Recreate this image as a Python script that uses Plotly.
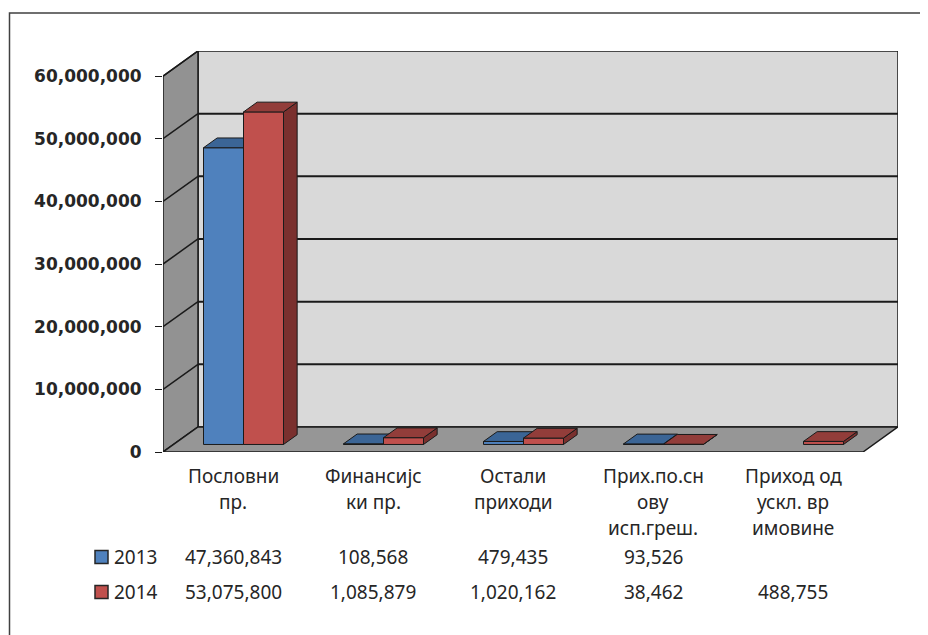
import plotly.graph_objects as go

# ---------------- data ----------------
categories = ["Пословни\nпр.", "Финансијс\nки пр.", "Остали\nприходи",
              "Прих.по.сн\nову\nисп.греш.", "Приход од\nускл. вр\nимовине"]
series_names = ["2013", "2014"]
values_2013 = [47360843, 108568, 479435, 93526, None]
values_2014 = [53075800, 1085879, 1020162, 38462, 488755]
y_ticks = [0, 10000000, 20000000, 30000000, 40000000, 50000000, 60000000]

# ---------------- styling / geometry ----------------
OFF = 8                      # page body margin of the browser
W, H = 928 - OFF, 635 - OFF
ML, MR, MT, MB = 163 - OFF, 30, 51 - OFF, 183
PW, PH = W - ML - MR, H - MT - MB
N = len(categories)
DX = 0.25            # depth offset in category units
DY = 4000000         # depth offset in value units
YMAX = 60000000
F0, F1 = 0.30, 0.69  # bar depth position (front/back fraction)
BW = 1 / 3.5         # bar width (gap 150%)

front_cols = ["#4F81BD", "#C0504D"]
top_cols = ["#3B6596", "#923D3A"]
side_cols = ["#2F5175", "#7A302E"]
edge = "#1a1a1a"
txt = "#262626"


def px2px(x):
    return (x - OFF - ML) / PW


def py2py(y):
    return (H - MB - (y - OFF)) / PH


fig = go.Figure()

shapes = []


def path(pts):
    return "M " + " L ".join(f"{x},{y}" for x, y in pts) + " Z"


shapes.append(dict(type="path", xref="x", yref="y", layer="below",
                   path=path([(DX, DY), (N + DX, DY), (N + DX, YMAX + DY), (DX, YMAX + DY)]),
                   fillcolor="#D9D9D9", line=dict(color=edge, width=1.5)))
shapes.append(dict(type="path", xref="x", yref="y", layer="below",
                   path=path([(0, 0), (0, YMAX), (DX, YMAX + DY), (DX, DY)]),
                   fillcolor="#929292", line=dict(color=edge, width=1.5)))
shapes.append(dict(type="path", xref="x", yref="y", layer="below",
                   path=path([(0, 0), (N, 0), (N + DX, DY), (DX, DY)]),
                   fillcolor="#969696", line=dict(color=edge, width=1.5)))
for t in y_ticks[1:-1]:
    shapes.append(dict(type="line", xref="x", yref="y", layer="below",
                       x0=DX, x1=N + DX, y0=t + DY, y1=t + DY,
                       line=dict(color=edge, width=2)))
for t in y_ticks[1:]:
    shapes.append(dict(type="line", xref="x", yref="y", layer="below",
                       x0=0, x1=DX, y0=t, y1=t + DY,
                       line=dict(color=edge, width=1.5)))

# outer chart border
shapes.append(dict(type="rect", xref="paper", yref="paper", layer="below",
                   x0=px2px(OFF + 1.5), x1=px2px(945), y0=py2py(650), y1=py2py(13),
                   line=dict(color="#404040", width=1.5), fillcolor="rgba(0,0,0,0)"))

# ---------------- bars ----------------
all_vals = [values_2013, values_2014]
base = F0 * DY
ddx = (F1 - F0) * DX
ddy = (F1 - F0) * DY
z = 0
for s, vals in enumerate(all_vals):
    xs_c = [i + 0.5 - BW + s * BW + BW / 2 + F0 * DX for i in range(N)]
    fig.add_trace(go.Bar(x=xs_c, y=vals, base=base, width=BW,
                         marker=dict(color=front_cols[s], line=dict(color=edge, width=1)),
                         name=series_names[s], zorder=z, hoverinfo="skip"))
    z += 1
    tx, ty, sx, sy = [], [], [], []
    for i, v in enumerate(vals):
        if v is None:
            continue
        xa = xs_c[i] - BW / 2
        xb = xs_c[i] + BW / 2
        top = base + v
        tx += [xa, xb, xb + ddx, xa + ddx, xa, None]
        ty += [top, top, top + ddy, top + ddy, top, None]
        sx += [xb, xb, xb + ddx, xb + ddx, xb, None]
        sy += [base, top, top + ddy, base + ddy, base, None]
    fig.add_trace(go.Scatter(x=sx, y=sy, mode="lines", fill="toself",
                             fillcolor=side_cols[s], line=dict(color=edge, width=1),
                             zorder=z, hoverinfo="skip"))
    z += 1
    fig.add_trace(go.Scatter(x=tx, y=ty, mode="lines", fill="toself",
                             fillcolor=top_cols[s], line=dict(color=edge, width=1),
                             zorder=z, hoverinfo="skip"))
    z += 1

# ---------------- text: category labels and data table ----------------
ann = []
lab_font = dict(family="Noto Sans, Open Sans, sans-serif", size=19, color=txt)
line_y = [476, 502, 528]
for i, c in enumerate(categories):
    for k, ln in enumerate(c.split("\n")):
        ann.append(dict(x=i + 0.5, y=py2py(line_y[k]), xref="x", yref="paper",
                        text=ln, showarrow=False, xanchor="center", yanchor="middle",
                        font=lab_font))
row_y = [557, 592]
for s, vals in enumerate(all_vals):
    ann.append(dict(x=px2px(112), y=py2py(row_y[s]), xref="paper", yref="paper",
                    text=series_names[s], showarrow=False, xanchor="left", yanchor="middle",
                    font=lab_font))
    shapes.append(dict(type="rect", xref="paper", yref="paper",
                       x0=px2px(95), x1=px2px(108), y0=py2py(row_y[s] + 6.5), y1=py2py(row_y[s] - 6.5),
                       fillcolor=front_cols[s], line=dict(color=txt, width=1.5)))
    for i, v in enumerate(vals):
        if v is None:
            continue
        ann.append(dict(x=i + 0.5, y=py2py(row_y[s]), xref="x", yref="paper",
                        text=f"{v:,}", showarrow=False, xanchor="center", yanchor="middle",
                        font=lab_font))

fig.update_layout(
    width=W, height=H,
    margin=dict(l=ML, r=MR, t=MT, b=MB),
    plot_bgcolor="white", paper_bgcolor="white",
    showlegend=False,
    shapes=shapes, annotations=ann,
    xaxis=dict(range=[0, N + DX], visible=False, fixedrange=True),
    yaxis=dict(range=[0, YMAX + DY], tickvals=y_ticks, tickformat=",d",
               ticks="outside", ticklen=7, tickwidth=1.2, tickcolor=edge,
               showgrid=False, zeroline=False, showline=False,
               ticklabelstandoff=10,
               tickfont=dict(family="DejaVu Sans", size=17, color=txt, weight="bold"),
               fixedrange=True),
    barmode="overlay",
)

fig.write_html("out.html")
